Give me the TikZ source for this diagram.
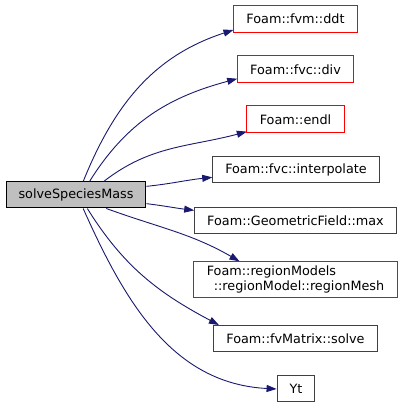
\documentclass[tikz,border=0pt]{standalone}
\usepackage{fontspec}
\setmainfont{DejaVu Sans}
\usepackage{xcolor}
\usetikzlibrary{arrows.meta,positioning}
\definecolor{calledge}{HTML}{191970}
\definecolor{boxline}{HTML}{404040}
\definecolor{boxred}{RGB}{255,0,0}
\definecolor{rootfill}{HTML}{BFBFBF}
\tikzset{
  callarr/.style={-{Triangle[length=10pt,width=7pt]}, line width=0.9pt, draw=calledge},
  fnbox/.style={draw=boxline, line width=1pt, fill=white, inner xsep=12.5pt, inner ysep=2pt, minimum height=26pt},
  refline/.style={draw=boxred, line width=1pt},
}

\begin{document}
\begin{tikzpicture}[
  x=1pt, y=1pt,
  font=\fontsize{12.8}{15}\selectfont,
  refbox/.style={fnbox, draw=none},
]
  \useasboundingbox[fill=white] (0,0) rectangle (403,408);

  \node[fnbox, fill=rootfill, draw=black] (solve) at (76,213) {solveSpeciesMass};

  \node[refbox] (ddt) at (295.5,389) {Foam::fvm::ddt};
  \node[refbox] (div) at (295.5,338.5) {Foam::fvc::div};
  \node[refbox] (endl) at (295.5,288.5) {Foam::endl};
  \node[fnbox] (interp) at (296,238) {Foam::fvc::interpolate};
  \node[fnbox] (gmax) at (295.5,187) {Foam::GeometricField::max};
  \node[refbox, align=left, inner ysep=4pt] (rmesh) at (295.5,128.5) {Foam::regionModels\\\hspace*{7pt}::regionModel::regionMesh};
  \node[fnbox] (fvsolve) at (295.5,69.5) {Foam::fvMatrix::solve};
  \node[fnbox] (yt) at (296,19) {Yt};

  % red frames of the referenced members
  \foreach \n in {ddt,div,endl,rmesh}
    \draw[refline] (\n.south west) rectangle (\n.north east);

  % calls made by solveSpeciesMass
  \foreach \n/\s/\e/\o/\i in {ddt/62/190/68/198, div/45/189/58/195, endl/26/194/38/195,
      interp/7/185/6/186, gmax/-7/174/-7/173, rmesh/-24/162/-20/150,
      fvsolve/-50/170/-58/152, yt/-62/west/-66/177}
    \draw[callarr] (solve.\s) to[out=\o, in=\i] (\n.\e);
\end{tikzpicture}
\end{document}
